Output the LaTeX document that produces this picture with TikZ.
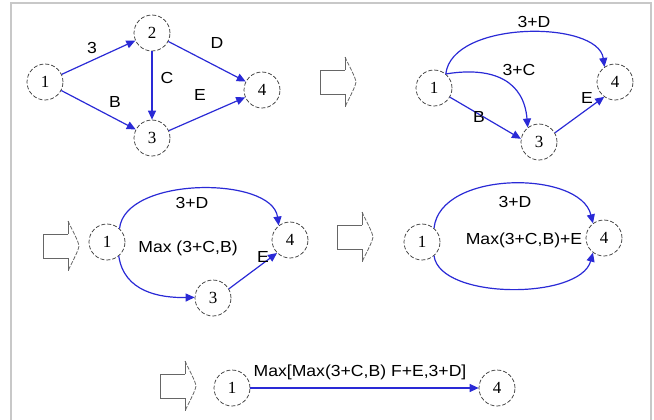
\documentclass[tikz,border=0pt]{standalone}
\usepackage{fontspec}
\usepackage{tikz}
\usetikzlibrary{arrows.meta}
\newfontfamily\lblfont{Liberation Sans}[FakeStretch=1.1]
\newfontfamily\evfont{Liberation Serif}
\definecolor{eblue}{HTML}{2A2AD6}
\definecolor{fgray}{HTML}{C8C8C8}
\tikzset{
  ev/.style={circle,draw=black!80,dash pattern=on 4pt off 2pt,line width=0.7pt,minimum size=36pt,inner sep=0pt,font=\evfont\fontsize{17}{19}\selectfont},
  act/.style={draw=eblue,line width=1.2pt,-{Triangle[length=9pt,width=8pt]}},
  lbl/.style={font=\lblfont\fontsize{16}{18}\selectfont,inner sep=1pt},
  frame/.style={draw=fgray,line width=2.5pt},
  hollow/.style={draw=black!60,line width=0.8pt},
  pics/bigarrow/.style={code={
    \draw[hollow] (0,12) -- (-25,12) -- (-25,-12) -- (0,-12);
    \draw[hollow] (0,12) -- (0,25);
    \draw[hollow] (0,-12) -- (0,-25);
    \draw[hollow,dash pattern=on 4pt off 1.5pt] (0,25) .. controls (5,14) and (10,6) .. (11,0) .. controls (10,-6) and (5,-14) .. (0,-25);
  }},
}
\begin{document}
\begin{tikzpicture}[x=1pt,y=1pt]
  \useasboundingbox (0,0) rectangle (654,-420);
  \draw[frame] (11,-440) -- (11,-3) -- (651,-3) -- (651,-440);
  % panel 1
  \node[ev] (a1) at (45,-82) {1};
  \node[ev] (a2) at (152,-33) {2};
  \node[ev] (a3) at (152,-138) {3};
  \node[ev] (a4) at (262,-90) {4};
  \foreach \s/\t in {a1/a2,a1/a3,a2/a3,a2/a4,a3/a4} \draw[act] (\s) -- (\t);
  \node[lbl] (la3) at (92,-48) {3};
  \node[lbl] (laB) at (115,-102) {B};
  \node[lbl] (laC) at (167,-78) {C};
  \node[lbl] (laD) at (217,-43) {D};
  \node[lbl] (laE) at (200,-95) {E};
  \pic at (345,-82) {bigarrow};
  % panel 2
  \node[ev] (b1) at (434,-88) {1};
  \node[ev] (b3) at (539,-142) {3};
  \node[ev] (b4) at (615,-82) {4};
  \draw[act] (b1.50) .. controls (452,-20) and (598,-20) .. (b4.125);
  \draw[act] (b1.50) .. controls (495,-66) and (524,-82) .. (b3.128);
  \draw[act] (b1.-30) -- (b3.170);
  \draw[act] (b3.30) -- (b4.-126);
  \node[lbl] (lb3D) at (534,-22) {3+D};
  \node[lbl] (lb3C) at (519,-70) {3+C};
  \node[lbl] (lbB) at (479,-117) {B};
  \node[lbl] (lbE) at (587,-98) {E};
  % panel 3
  \pic at (68,-246) {bigarrow};
  \node[ev] (c1) at (107,-242) {1};
  \node[ev] (c3) at (213,-298) {3};
  \node[ev] (c4) at (290,-240) {4};
  \draw[act] (c1.47) .. controls (125,-176) and (272,-176) .. (c4.128);
  \draw[act] (c1.-50) .. controls (124,-292) and (160,-298) .. (c3.178);
  \draw[act] (c3.30) -- (c4.-135);
  \node[lbl] (lc3D) at (192,-203) {3+D};
  \node[lbl] (lcM) at (188,-248) {Max (3+C,B)};
  \node[lbl] (lcE) at (263,-257) {E};
  % panel 4
  \pic at (362,-237) {bigarrow};
  \node[ev] (d1) at (422,-242) {1};
  \node[ev] (d4) at (604,-238) {4};
  \draw[act] (d1.49) .. controls (440,-170) and (580,-170) .. (d4.127);
  \draw[act] (d1.-49) .. controls (440,-300) and (580,-300) .. (d4.-127);
  \node[lbl] (ld3D) at (515,-202) {3+D};
  \node[lbl] (ldM) at (524,-240) {Max(3+C,B)+E};
  % panel 5
  \pic at (185,-386) {bigarrow};
  \node[ev] (e1) at (232,-388) {1};
  \node[ev] (e4) at (497,-388) {4};
  \draw[act] (e1) -- (e4);
  \node[lbl] (leM) at (360,-372) {Max[Max(3+C,B) F+E,3+D]};
\end{tikzpicture}
\end{document}
